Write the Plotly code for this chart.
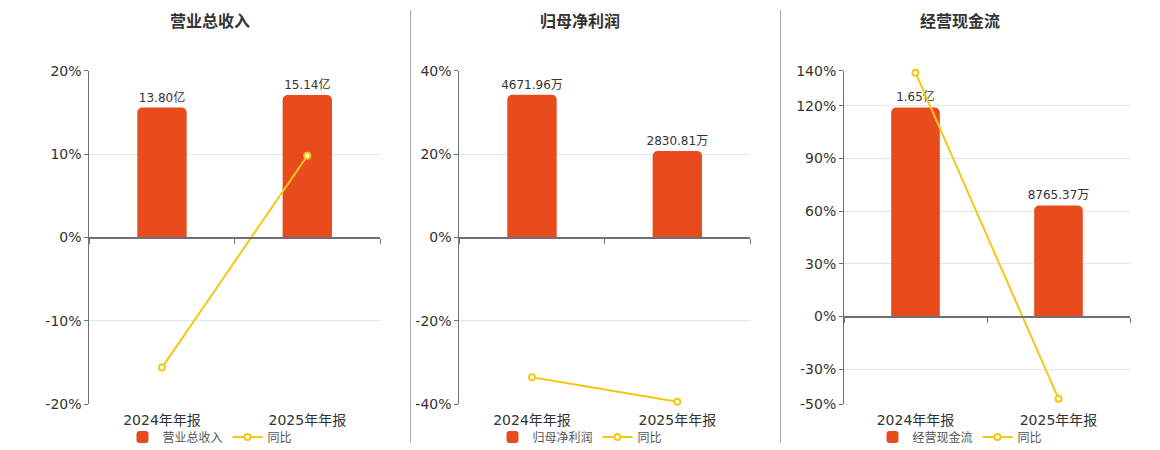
import plotly.graph_objects as go

categories = ["2024年年报", "2025年年报"]

titles = ["营业总收入", "归母净利润", "经营现金流"]
bar_names = ["营业总收入", "归母净利润", "经营现金流"]

revenue = [13.80, 15.14]          # 亿
revenue_labels = ["13.80亿", "15.14亿"]
revenue_yoy = [-15.6, 9.8]

profit = [4671.96, 2830.81]       # 万
profit_labels = ["4671.96万", "2830.81万"]
profit_yoy = [-33.5, -39.4]

cashflow = [16500.0, 8765.37]     # 万
cashflow_labels = ["1.65亿", "8765.37万"]
cashflow_yoy = [138.9, -46.8]

pct_ranges = [[-20, 20], [-40, 40], [-50, 140]]
pct_ticks = [[-20, -10, 0, 10, 20], [-40, -20, 0, 20, 40], [-50, -30, 0, 30, 60, 90, 120, 140]]
bar_tops = [17.72, 5460.0, 19400.0]

bars = [revenue, profit, cashflow]
labels = [revenue_labels, profit_labels, cashflow_labels]
yoys = [revenue_yoy, profit_yoy, cashflow_yoy]

BAR_COLOR = "#E84C1D"
LINE_COLOR = "#F2C814"
AXIS_COLOR = "#6E7079"
GRID_COLOR = "#E0E6F1"
TEXT_COLOR = "#333333"
FONT = "DejaVu Sans, Noto Sans CJK SC, sans-serif"

W, H = 1160, 450
x_domains = [[89.3 / W, 380 / W], [459.3 / W, 750 / W], [844 / W, 1130 / W]]
y_domain = [1 - 404.3 / H, 1 - 70.7 / H]
centers = [210 / W, 580 / W, 960 / W]

fig = go.Figure()
layout = dict(
    width=W, height=H,
    margin=dict(l=0, r=0, t=0, b=0, autoexpand=False),
    paper_bgcolor="white", plot_bgcolor="white",
    font=dict(family=FONT, color=TEXT_COLOR, size=12),
    hovermode=False,
    annotations=[], shapes=[],
)

for i in range(3):
    bx, by = i + 1, i + 1          # base subplot (bars)
    lx, ly = i + 4, i + 4          # overlay subplot (line)
    lo, hi = pct_ranges[i]
    top = bar_tops[i]
    bottom = top * lo / hi
    legend_name = "legend" if i == 0 else f"legend{i + 1}"

    fig.add_trace(go.Bar(
        x=categories, y=bars[i], name=bar_names[i],
        xaxis=f"x{bx}", yaxis=f"y{by}",
        marker=dict(color=BAR_COLOR, cornerradius=5, line=dict(width=0)),
        width=0.34,
        text=labels[i], textposition="outside", cliponaxis=False,
        constraintext="none",
        textfont=dict(size=12, color=TEXT_COLOR),
        legend=legend_name,
    ))
    fig.add_trace(go.Scatter(
        x=categories, y=yoys[i], name="同比",
        xaxis=f"x{lx}", yaxis=f"y{ly}",
        mode="lines+markers",
        line=dict(color=LINE_COLOR, width=2),
        marker=dict(symbol="circle", size=6, color="white",
                    line=dict(color=LINE_COLOR, width=2)),
        cliponaxis=False,
        legend=legend_name,
    ))

    zero_pos = y_domain[0] + (0 - lo) / (hi - lo) * (y_domain[1] - y_domain[0])

    layout[f"xaxis{bx}"] = dict(
        domain=x_domains[i], anchor="free", position=zero_pos,
        type="category", categoryarray=categories, range=[-0.5, 1.5],
        showline=True, linecolor=AXIS_COLOR, linewidth=2,
        ticks="outside", tickson="boundaries", ticklen=5, tickcolor=AXIS_COLOR,
        showticklabels=False, showgrid=False, zeroline=False, fixedrange=True,
    )
    layout[f"yaxis{by}"] = dict(
        domain=y_domain, anchor=f"x{bx}", range=[bottom, top],
        visible=False, showgrid=False, zeroline=False, fixedrange=True,
    )
    layout[f"xaxis{lx}"] = dict(
        domain=x_domains[i], anchor=f"y{ly}", overlaying=f"x{bx}",
        type="category", categoryarray=categories, range=[-0.5, 1.5],
        showline=False, ticks="outside", ticklen=3, tickcolor="rgba(0,0,0,0)",
        showgrid=False, zeroline=False,
        tickfont=dict(size=14, color=TEXT_COLOR), fixedrange=True,
    )
    layout[f"yaxis{ly}"] = dict(
        domain=y_domain, anchor=f"x{lx}", overlaying=f"y{by}", side="left",
        range=[lo, hi], tickmode="array", tickvals=pct_ticks[i],
        ticktext=[f"{v}%" for v in pct_ticks[i]],
        showline=True, linecolor=AXIS_COLOR, linewidth=1,
        ticks="outside", ticklen=4, tickcolor=AXIS_COLOR,
        showgrid=True, gridcolor=GRID_COLOR, gridwidth=1, zeroline=False,
        tickfont=dict(size=14, color=TEXT_COLOR), fixedrange=True,
    )
    layout[legend_name] = dict(
        orientation="h", x=centers[i], xanchor="center",
        y=1 - 437 / H, yanchor="middle",
        font=dict(size=12, color="#555555"), bgcolor="rgba(0,0,0,0)",
        itemwidth=30, tracegroupgap=0,
    )
    layout["annotations"].append(dict(
        text=f"<b>{titles[i]}</b>", xref="paper", yref="paper",
        x=centers[i], y=1 - 22 / H, xanchor="center", yanchor="middle",
        showarrow=False, font=dict(size=16, color=TEXT_COLOR),
    ))

for sx in [410.5 / W, 780.5 / W]:
    layout["shapes"].append(dict(
        type="line", xref="paper", yref="paper",
        x0=sx, x1=sx, y0=1 - 443 / H, y1=1 - 10 / H,
        line=dict(color="#AAAAAA", width=1),
    ))

fig.update_layout(**layout)
fig.write_html(
    "out.html",
    config={"displayModeBar": False},
    post_script="document.body.style.margin='0';document.body.style.padding='0';",
)
